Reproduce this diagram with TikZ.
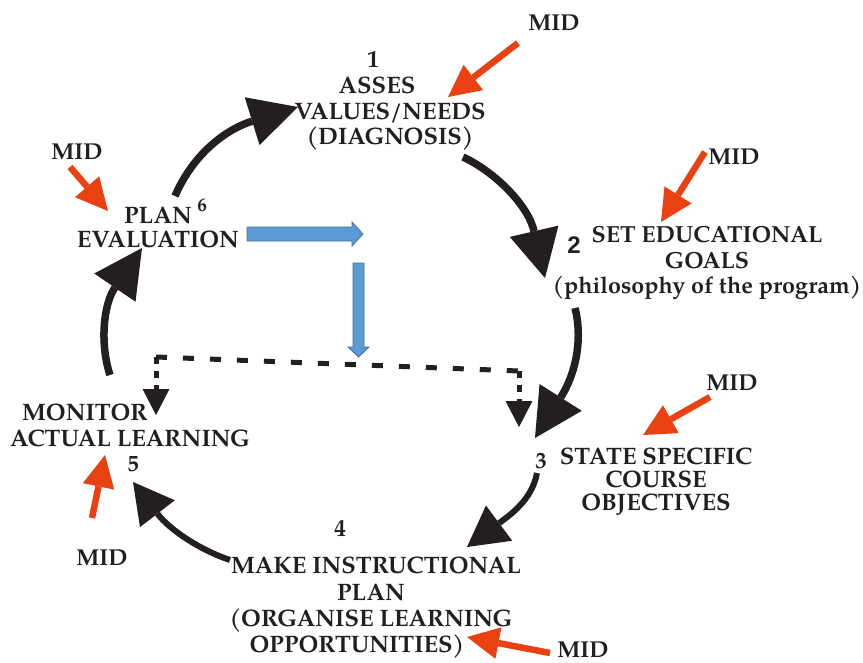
\documentclass[tikz,border=0pt]{standalone}
\usepackage{fontspec}
\setmainfont{TeX Gyre Pagella}
\newfontfamily\arialf{Liberation Sans}
\usetikzlibrary{arrows.meta}
\definecolor{cyc}{RGB}{35,31,32}
\definecolor{midred}{RGB}{233,65,17}
\definecolor{bfill}{RGB}{91,155,213}
\definecolor{bline}{RGB}{65,113,156}
\begin{document}
\begin{tikzpicture}[x=1pt,y=-1pt,
 lbl/.style={inner sep=0pt, align=center, text=cyc, font=\bfseries\fontsize{23.8}{25.5}\selectfont},
 num/.style={inner sep=0pt, text=cyc, font=\bfseries\fontsize{24}{26}\selectfont},
 smallnum/.style={inner sep=0pt, text=cyc, font=\bfseries\fontsize{23}{25}\selectfont},
 midlbl/.style={inner sep=0pt, text=cyc, font=\bfseries\fontsize{23}{25}\selectfont},
 cycarrow/.style={draw=cyc, line width=7.5pt, -{Triangle[length=48pt,width=50pt,line width=0pt]}},
 cycsmall/.style={draw=cyc, line width=6pt, -{Triangle[length=40pt,width=44pt,line width=0pt]}},
 redarrow/.style={draw=midred, line width=6.5pt, -{Triangle[length=32pt,width=32pt,line width=0pt]}},
 dashline/.style={draw=cyc, line width=5pt, dash pattern=on 11pt off 16pt},
 dashdown/.style={draw=cyc, line width=5pt, dash pattern=on 7pt off 7pt, -{Triangle[length=26pt,width=27pt,line width=0pt]}},
 bluearrow/.style={fill=bfill, draw=bline, line width=0.8pt}
]
\useasboundingbox (0,0) rectangle (863,662);

% texts
\node[num] (n1) at (373,59) {1};
\node[lbl] (t1) at (390,114) {ASSES\hspace*{26pt}\\VALUES/NEEDS\\(DIAGNOSIS)};
\node[num,font=\arialf\bfseries\fontsize{24}{26}\selectfont] (n2) at (574,245) {2};
\node[lbl,font=\bfseries\fontsize{23.3}{25.5}\selectfont] (t2) at (707,263) {SET EDUCATIONAL\\GOALS\hspace*{52pt}\\(philosophy of the program)};
\node[smallnum] (n3) at (541,461) {3};
\node[lbl,font=\bfseries\fontsize{23.8}{23}\selectfont] (t3) at (656,482) {STATE SPECIFIC\\COURSE\\OBJECTIVES};
\node[num] (n4) at (340,528) {4};
\node[lbl,font=\bfseries\fontsize{23.8}{26.3}\selectfont] (t4) at (371,608) {\hspace*{10pt}MAKE INSTRUCTIONAL\\PLAN\hspace*{12pt}\\(ORGANISE LEARNING\\OPPORTUNITIES)\hspace*{28pt}};
\node[lbl,align=left,font=\bfseries\fontsize{23.8}{26}\selectfont] (t5) at (130,425) {\hspace*{12pt}MONITOR\\ACTUAL LEARNING};
\node[smallnum] (n5) at (133,464) {5};
\node[lbl,font=\bfseries\fontsize{23.8}{24}\selectfont] (t6) at (158,228) {PLAN\\EVALUATION};
\node[inner sep=0pt,text=cyc,font=\bfseries\fontsize{19}{22}\selectfont] (n6) at (202,205) {6};

\node[midlbl] (m1) at (554,23) {MID};
\node[midlbl] (m2) at (734,157) {MID};
\node[midlbl] (m3) at (732,383) {MID};
\node[midlbl] (m4) at (77,152) {MID};
\node[midlbl] (m5) at (102,558) {MID};
\node[midlbl] (m6) at (583,650) {MID};

% blue arrows
\filldraw[bluearrow] (247,227) -- (352,227) -- (352,222) -- (363,234) -- (352,246) -- (352,241) -- (247,241) -- cycle;
\filldraw[bluearrow] (353,263) -- (364,263) -- (364,347) -- (369,347) -- (358.5,357) -- (348,347) -- (353,347) -- cycle;

% cycle arrows
\coordinate (aAs) at (175,196); \coordinate (aAe) at (298,107);
\coordinate (aBs) at (463,157); \coordinate (aBe) at (545,278);
\coordinate (aCs) at (575,308); \coordinate (aCe) at (535,438);
\coordinate (aDs) at (110,375); \coordinate (aDe) at (142,248);
\coordinate (aEs) at (230,560); \coordinate (aEe) at (133,482);
\coordinate (aFs) at (537,473); \coordinate (aFe) at (467,547);
\draw[cycarrow] (aAs) .. controls (195,150) and (230,128) .. (aAe);
\draw[cycarrow] (aBs) .. controls (495,172) and (528,205) .. (aBe);
\draw[cycarrow] (aCs) .. controls (582,335) and (578,370) .. (aCe);
\draw[cycarrow] (aDs) .. controls (100,345) and (103,305) .. (aDe);
\draw[cycsmall] (aEs) .. controls (200,550) and (170,530) .. (aEe);
\draw[cycsmall] (aFs) .. controls (532,500) and (510,515) .. (aFe);

% dashed feedback
\coordinate (dl) at (156,357); \coordinate (dr) at (519,371);
\coordinate (dlt) at (156,415); \coordinate (drt) at (519,427);
\draw[dashline] (dl) -- (dr);
\draw[dashdown] (dl) -- (dlt);
\draw[dashdown] (dr) -- (drt);

% red MID arrows
\coordinate (r1s) at (518,43); \coordinate (r1e) at (448,97);
\coordinate (r2s) at (705,152); \coordinate (r2e) at (661,222);
\coordinate (r3s) at (710,397); \coordinate (r3e) at (643,435);
\coordinate (r4s) at (70,167); \coordinate (r4e) at (108,211);
\coordinate (r5s) at (92,518); \coordinate (r5e) at (105,455);
\coordinate (r6s) at (550,653); \coordinate (r6e) at (467,637);
\draw[redarrow] (r1s) -- (r1e);
\draw[redarrow] (r2s) -- (r2e);
\draw[redarrow] (r3s) -- (r3e);
\draw[redarrow] (r4s) -- (r4e);
\draw[redarrow] (r5s) -- (r5e);
\draw[redarrow] (r6s) -- (r6e);
\end{tikzpicture}
\end{document}
